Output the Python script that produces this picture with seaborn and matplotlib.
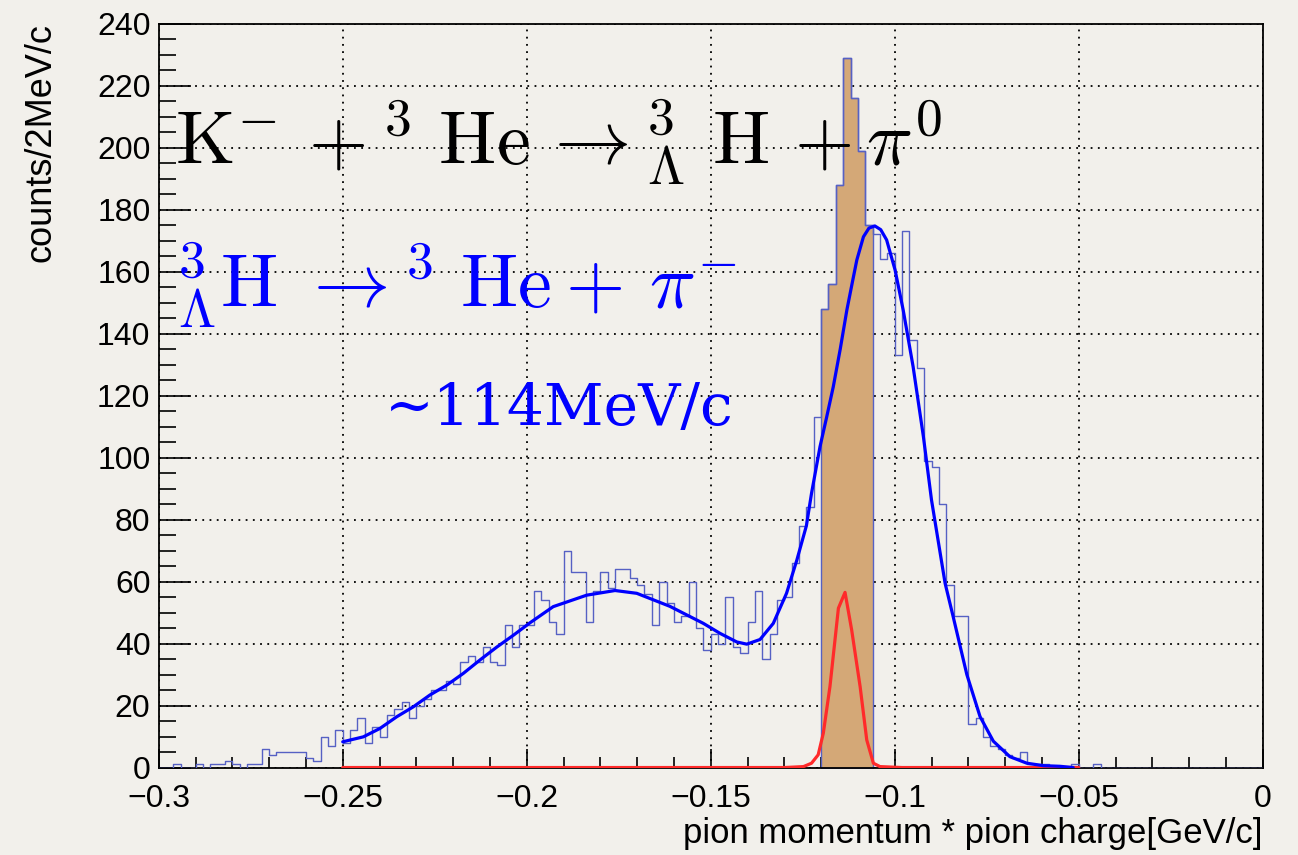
import numpy as np
import pandas as pd
import matplotlib
matplotlib.use("Agg")
import matplotlib.pyplot as plt
import seaborn as sns

# histogram: 150 bins of 2 MeV/c from -0.3 to 0 GeV/c
bin_lo, bin_hi, n_bins = -0.3, 0.0, 150
counts = [
    0, 0, 1, 0, 0, 1, 0, 1, 1, 2,
    1, 0, 1, 1, 6, 4, 5, 5, 5, 5,
    3, 2, 10, 7, 12, 8, 12, 16, 8, 13,
    10, 17, 19, 21, 16, 20, 22, 25, 25, 28,
    27, 34, 36, 34, 39, 34, 33, 46, 39, 46,
    46, 57, 54, 47, 43, 70, 63, 63, 47, 57,
    63, 58, 64, 64, 61, 59, 56, 46, 60, 53,
    47, 49, 60, 45, 38, 43, 40, 55, 39, 37,
    47, 57, 35, 43, 54, 55, 66, 78, 84, 113,
    148, 156, 188, 229, 216, 199, 175, 172, 164, 166,
    133, 173, 138, 129, 99, 97, 85, 59, 49, 49,
    14, 16, 10, 7, 6, 4, 3, 5, 1, 1,
    1, 0, 0, 0, 1, 0, 0, 1, 0, 0,
    0, 0, 0, 0, 0, 0, 0, 0, 0, 0,
    0, 0, 0, 0, 0, 0, 0, 0, 0, 0,
]
# selected (filled) window
sel_lo, sel_hi = -0.120, -0.106

# total fit curve (blue)
fit_x = [-0.2500, -0.2444, -0.2399, -0.2353, -0.2308, -0.2263, -0.2217, -0.2172,
         -0.2127, -0.2082, -0.2036, -0.1991, -0.1928, -0.1837, -0.1760, -0.1701,
         -0.1611, -0.1520, -0.1475, -0.1429, -0.1402, -0.1366, -0.1330, -0.1294,
         -0.1266, -0.1240, -0.1226, -0.1203, -0.1185, -0.1167, -0.1148, -0.1130,
         -0.1116, -0.1103, -0.1085, -0.1070, -0.1054, -0.1038, -0.1022, -0.0999,
         -0.0977, -0.0950, -0.0922, -0.0900, -0.0863, -0.0841, -0.0804, -0.0768,
         -0.0732, -0.0687, -0.0641, -0.0596, -0.0551, -0.0515]
fit_y = [8.3, 9.9, 12.6, 16.4, 19.6, 23.4, 26.6, 30.4,
         34.7, 38.8, 42.7, 46.7, 51.9, 55.6, 57.1, 56.2,
         52.0, 46.5, 43.3, 40.5, 39.8, 41.3, 46.5, 56.2,
         66.9, 78.0, 88.5, 103.5, 113.0, 122.8, 135.0, 147.6,
         156.0, 163.7, 171.2, 174.0, 174.7, 173.5, 170.2, 160.5,
         147.6, 129.3, 106.7, 86.3, 59.4, 48.6, 30.0, 16.4,
         8.5, 3.5, 1.4, 0.6, 0.4, 0.0]

# signal component (red)
sig_x = [-0.2500, -0.1300, -0.1248, -0.1226, -0.1208, -0.1194, -0.1176, -0.1153,
         -0.1135, -0.1117, -0.1094, -0.1076, -0.1058, -0.1040, -0.0980, -0.0500]
sig_y = [0.0, 0.0, 0.3, 1.4, 4.1, 11.1, 26.1, 51.4,
         56.5, 44.4, 26.1, 8.9, 1.4, 0.3, 0.0, 0.0]

xtick_vals = [-0.3, -0.25, -0.2, -0.15, -0.1, -0.05, 0.0]
xtick_labels = ["\u22120.3", "\u22120.25", "\u22120.2", "\u22120.15", "\u22120.1", "\u22120.05", "0"]
ytick_vals = list(range(0, 241, 20))

bin_w = (bin_hi - bin_lo) / n_bins
centers = bin_lo + (np.arange(n_bins) + 0.5) * bin_w
counts = np.array(counts, dtype=float)
in_sel = (centers > sel_lo) & (centers < sel_hi)
n_sel = int(in_sel.sum())

sns.set_theme(style="ticks")
plt.rcParams["font.family"] = ["Liberation Sans", "DejaVu Sans"]
plt.rcParams["mathtext.fontset"] = "cm"
plt.rcParams["text.color"] = "black"
plt.rcParams["axes.labelcolor"] = "black"
plt.rcParams["xtick.labelcolor"] = "black"
plt.rcParams["ytick.labelcolor"] = "black"

paper = "#f2f0eb"
line_col = "#5661c4"
fig = plt.figure(figsize=(12.98, 8.55), dpi=100, facecolor=paper)
ax = fig.add_axes([0.1223, 0.1023, 0.8505, 0.8702], facecolor=paper)

sns.histplot(x=centers[in_sel], weights=counts[in_sel], bins=n_sel,
             binrange=(sel_lo, sel_hi), element="step", fill=True,
             color="#d4a877", edgecolor=line_col, linewidth=1.0,
             alpha=1.0, ax=ax, zorder=2)
sns.histplot(x=centers, weights=counts, bins=n_bins, binrange=(bin_lo, bin_hi),
             element="step", fill=False, color=line_col, linewidth=1.0,
             ax=ax, zorder=3)
sns.lineplot(x=fit_x, y=fit_y, sort=False, estimator=None, color="#0000ff",
             linewidth=2.3, ax=ax, zorder=5)
sns.lineplot(x=sig_x, y=sig_y, sort=False, estimator=None, color="#ff2a2a",
             linewidth=2.3, ax=ax, zorder=4)

ax.set_xlim(bin_lo, bin_hi)
ax.set_ylim(0, 240)
ax.set_xticks(xtick_vals)
ax.set_xticklabels(xtick_labels)
ax.set_yticks(ytick_vals)
ax.set_xticks(np.arange(-0.3, 0.0001, 0.01), minor=True)
ax.set_yticks(np.arange(0, 241, 5), minor=True)
ax.tick_params(axis="both", which="both", direction="in", colors="black",
               labelcolor="black", labelsize=23, width=1.2)
ax.tick_params(axis="x", which="major", length=14, pad=12)
ax.tick_params(axis="x", which="minor", length=8)
ax.tick_params(axis="y", which="major", length=23, pad=6)
ax.tick_params(axis="y", which="minor", length=12)
ax.grid(True, which="major", color="black", linestyle=(0, (1, 3)), linewidth=1.3)
for s in ax.spines.values():
    s.set_color("black")
    s.set_linewidth(1.3)

ax.set_xlabel("pion momentum * pion charge[GeV/c]", fontsize=25, loc="right")
ax.xaxis.set_label_coords(1.0, -0.067)
ax.set_ylabel("counts/2MeV/c", fontsize=26, loc="top")
ax.yaxis.set_label_coords(-0.091, 1.0)

fig.text(0.1348, 0.807,
         r"$\mathrm{K}^{-}\,+^{3}\ \mathrm{He}\,\rightarrow^{3}_{\Lambda}\ \mathrm{H}\,+\pi^{0}$",
         fontsize=55, color="black", va="baseline", ha="left")
fig.text(0.1350, 0.639,
         r"${}^{3}_{\Lambda}\mathrm{H}\ \rightarrow^{3}\ \mathrm{He}+\,\pi^{-}$",
         fontsize=55, color="#0000ff", va="baseline", ha="left")
fig.text(0.2966, 0.503, "~114MeV/c", fontsize=42, color="#0000ff",
         family=["DejaVu Serif"], va="baseline", ha="left")

fig.savefig("out.png", dpi=100, facecolor=paper)
